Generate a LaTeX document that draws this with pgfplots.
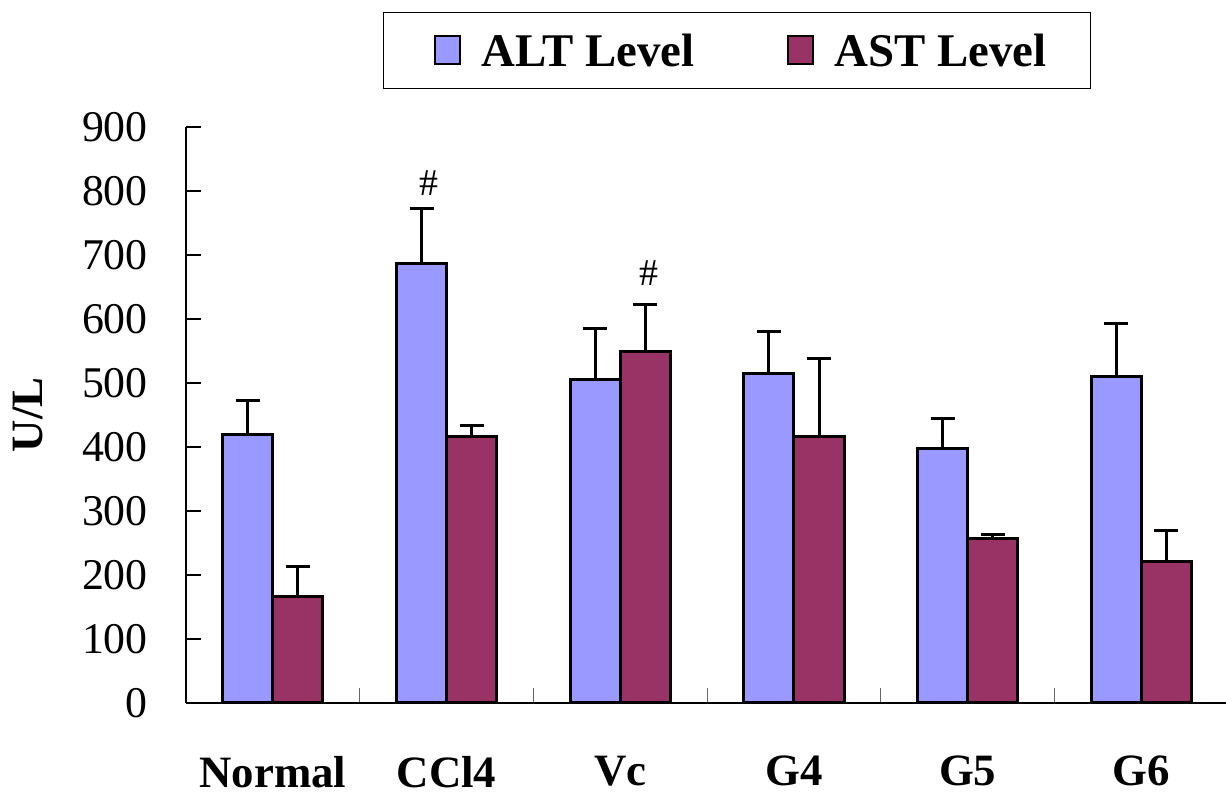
\documentclass[border=0pt]{standalone}
\usepackage{fontspec}
\setmainfont{Liberation Serif}
\usepackage{pgfplots}
\usepackage{pgfplotstable}
\pgfplotsset{compat=1.18}
\definecolor{altc}{HTML}{9999FF}
\definecolor{astc}{HTML}{993366}

% group, ALT mean, ALT sd, AST mean, AST sd (U/L)
\pgfplotstableread{
x alt alterr ast asterr
0 420 53 167 47
1 686 86 417 16
2 506 79 549 74
3 515 66 417 121
4 397 47 257 7
5 510 83 221 48
}\liver

\begin{document}
\begin{tikzpicture}
\useasboundingbox (0,0) rectangle (1226bp,796bp);
\begin{axis}[
  at={(186bp,93bp)}, anchor=south west,
  width=1040bp, height=576bp, scale only axis,
  ybar=0pt, bar width=0.288,
  xmin=-0.5, xmax=5.487, ymin=0, ymax=900,
  axis x line*=bottom, axis y line*=left,
  axis line style={line width=1.5bp, black},
  tick align=inside,
  major tick length=15bp,
  ytick={0,100,...,900},
  xtick={0.5,1.5,2.5,3.5,4.5},
  xticklabels={},
  x tick style={line width=1.2bp, black!60},
  y tick style={line width=1.2bp, black},
  extra x ticks={0,1,2,3,4,5},
  extra x tick labels={Normal,CCl4,Vc,G4,G5,G6},
  extra x tick style={tick style={draw=none}},
  /pgf/number format/assume math mode=true,
  yticklabel style={font=\fontsize{44}{44}\selectfont, inner sep=0pt, xshift=-38bp},
  xticklabel style={font=\bfseries\fontsize{45}{45}\selectfont, inner sep=0pt, anchor=north, yshift=-53bp},
  ylabel={U/L},
  ylabel style={at={(axis description cs:-0.152,0.5)}, anchor=center, font=\bfseries\fontsize{45}{45}\selectfont},
  legend columns=2,
  legend style={at={(0.1894,1.1997)}, anchor=north west, draw=black, line width=1.5bp,
    inner xsep=44bp, inner ysep=21bp, font=\bfseries\fontsize{47}{47}\selectfont,
    nodes={inner sep=0pt},
    /tikz/every even column/.append style={column sep=86bp}},
  legend image code/.code={\draw[#1, line width=2bp] (6bp,-13bp) rectangle (31bp,15bp); \path (0bp,0bp) (51bp,0bp);},
  clip=false,
  error bars/y dir=plus, error bars/y explicit,
  error bars/error bar style={line width=3bp, black},
  error bars/error mark options={rotate=90, mark size=12bp, line width=3bp, black},
]
\addplot[fill=altc, draw=black, line width=3bp]
  table[x=x, y=alt, y error=alterr] {\liver};
\addlegendentry{ALT Level}
\addplot[fill=astc, draw=black, line width=3bp]
  table[x=x, y=ast, y error=asterr] {\liver};
\addlegendentry{AST Level}
\node[font=\fontsize{38}{38}\selectfont] at (axis cs:0.899,812) {\#};
\node[font=\fontsize{38}{38}\selectfont] at (axis cs:2.164,671) {\#};
\end{axis}
\end{tikzpicture}
\end{document}
